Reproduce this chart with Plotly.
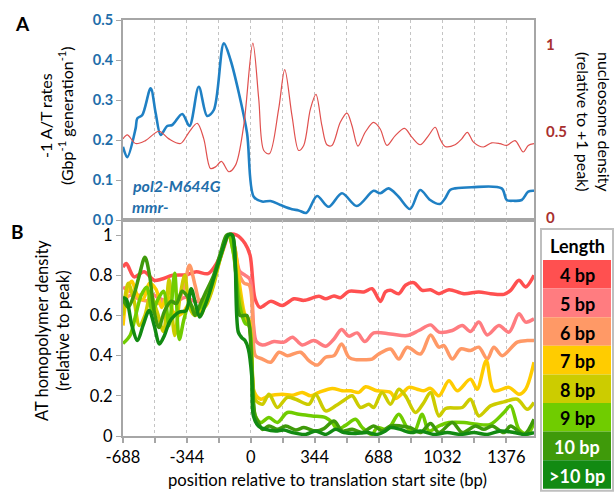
import plotly.graph_objects as go

# ---------------- Panel A data ----------------
a_blue_x = [-688,-665,-620,-611,-584,-539,-512,-485,-450,-423,-369,-330,-280,-235,-199,-145,-109,-64,-20,16,61,106,160,222,258,300,357,419,491,571,661,697,742,796,858,912,966,1019,1046,1073,1100,1190,1351,1378,1414,1459,1494,1525]
a_blue_y = [0.183,0.157,0.229,0.254,0.2625,0.329,0.267,0.2125,0.235,0.2375,0.265,0.235,0.333,0.26,0.275,0.4415,0.40,0.317,0.217,0.058,0.046,0.0475,0.0375,0.027,0.024,0.018,0.06,0.033,0.067,0.035,0.073,0.067,0.079,0.058,0.0275,0.075,0.05,0.04,0.054,0.075,0.079,0.082,0.079,0.05,0.048,0.05,0.071,0.073]

a_red_x = [-688,-665,-620,-567,-494,-441,-378,-333,-288,-253,-217,-190,-158,-118,-82,-38,11,43,70,100,150,183,222,258,285,321,351,383,410,437,482,518,545,577,616,661,697,733,778,828,867,912,957,993,1019,1046,1100,1136,1166,1199,1252,1297,1342,1378,1423,1467,1494,1525]
a_red_y = [0.457,0.48,0.43,0.447,0.501,0.457,0.43,0.495,0.547,0.457,0.286,0.295,0.327,0.267,0.305,0.533,1.01,0.686,0.39,0.371,0.629,0.857,0.59,0.39,0.419,0.629,0.714,0.533,0.423,0.419,0.553,0.606,0.533,0.415,0.495,0.552,0.514,0.419,0.476,0.518,0.467,0.423,0.476,0.524,0.457,0.413,0.423,0.457,0.495,0.438,0.41,0.434,0.429,0.419,0.447,0.381,0.419,0.429]

# ---------------- Panel B data ----------------
bp4_x = [-688,-670,-628,-574,-520,-483,-420,-348,-293,-230,-185,-150,-120,-76,-31,-4,23,50,107,170,233,286,367,403,448,483,528,609,653,698,725,752,797,833,878,923,968,1013,1067,1148,1228,1291,1363,1399,1444,1480,1525]
bp4_y = [0.84,0.858,0.792,0.817,0.775,0.78,0.80,0.803,0.817,0.808,0.858,0.93,1.0,1.0,0.958,0.90,0.683,0.64,0.67,0.65,0.683,0.675,0.695,0.683,0.697,0.688,0.72,0.717,0.733,0.67,0.717,0.725,0.708,0.75,0.763,0.725,0.728,0.708,0.728,0.708,0.717,0.708,0.705,0.725,0.775,0.742,0.80]

bp5_x = [-688,-650,-600,-560,-520,-480,-440,-400,-350,-300,-260,-220,-180,-140,-120,-90,-60,-30,-5,15,30,63,125,179,224,277,340,403,448,489,528,573,614,662,752,842,905,968,1013,1085,1139,1183,1228,1273,1336,1390,1444,1480,1525]
bp5_y = [0.74,0.72,0.70,0.72,0.70,0.68,0.66,0.67,0.69,0.67,0.68,0.74,0.84,0.95,1.0,0.95,0.82,0.80,0.78,0.55,0.47,0.453,0.47,0.467,0.492,0.453,0.475,0.447,0.483,0.53,0.497,0.513,0.47,0.513,0.508,0.50,0.525,0.553,0.517,0.525,0.55,0.52,0.567,0.503,0.55,0.517,0.608,0.567,0.583]

bp6_x = [-688,-650,-600,-550,-500,-450,-400,-360,-330,-300,-270,-230,-190,-150,-120,-90,-60,-35,-8,12,25,63,107,152,197,268,313,358,403,448,489,528,564,609,653,689,752,797,842,914,968,1013,1040,1085,1130,1183,1228,1273,1309,1354,1435,1489,1525]
bp6_y = [0.66,0.70,0.68,0.67,0.66,0.68,0.66,0.74,0.85,0.75,0.66,0.68,0.80,0.93,1.0,0.93,0.80,0.76,0.75,0.55,0.40,0.383,0.367,0.417,0.40,0.417,0.375,0.353,0.392,0.40,0.458,0.392,0.38,0.38,0.383,0.408,0.433,0.383,0.442,0.408,0.503,0.442,0.45,0.383,0.433,0.425,0.442,0.383,0.442,0.40,0.467,0.475,0.475]

bp7_x = [-688,-660,-640,-610,-580,-545,-510,-480,-450,-420,-390,-360,-330,-300,-270,-240,-200,-160,-120,-90,-60,-30,-10,5,18,54,98,170,224,277,322,367,439,492,537,582,618,680,752,779,824,851,896,932,968,1013,1067,1112,1183,1219,1268,1309,1390,1444,1480,1525]
bp7_y = [0.55,0.74,0.77,0.70,0.68,0.76,0.73,0.64,0.70,0.62,0.60,0.62,0.66,0.62,0.60,0.68,0.78,0.90,1.0,0.95,0.75,0.60,0.58,0.40,0.22,0.183,0.20,0.208,0.203,0.217,0.20,0.217,0.237,0.225,0.225,0.217,0.245,0.225,0.217,0.187,0.22,0.242,0.233,0.225,0.237,0.20,0.275,0.225,0.283,0.233,0.375,0.225,0.242,0.208,0.233,0.367]

bp8_x = [-688,-660,-630,-600,-570,-540,-505,-470,-440,-410,-380,-355,-330,-300,-270,-240,-200,-160,-120,-95,-60,-30,-10,10,25,63,98,143,197,242,313,349,403,457,510,546,591,636,662,707,752,797,833,887,932,968,1013,1049,1139,1183,1228,1291,1363,1435,1489,1525]
bp8_y = [0.60,0.76,0.68,0.55,0.60,0.70,0.62,0.52,0.78,0.50,0.70,0.80,0.64,0.60,0.62,0.65,0.75,0.90,1.0,0.92,0.70,0.58,0.56,0.30,0.18,0.158,0.208,0.142,0.192,0.183,0.158,0.208,0.125,0.15,0.183,0.20,0.142,0.158,0.142,0.217,0.158,0.233,0.20,0.117,0.167,0.217,0.10,0.137,0.142,0.183,0.10,0.15,0.17,0.183,0.133,0.167]

bp9_x = [-688,-650,-620,-590,-560,-530,-500,-470,-440,-410,-385,-360,-330,-300,-270,-240,-200,-160,-120,-95,-60,-30,-10,10,25,54,98,143,197,260,331,403,439,466,510,564,600,653,680,725,752,797,842,878,923,959,1013,1067,1148,1219,1291,1363,1399,1444,1489,1525]
bp9_y = [0.46,0.50,0.60,0.70,0.74,0.62,0.68,0.72,0.55,0.81,0.48,0.58,0.66,0.62,0.64,0.68,0.78,0.90,1.0,0.92,0.65,0.56,0.55,0.20,0.10,0.067,0.092,0.067,0.117,0.108,0.10,0.092,0.067,0.033,0.053,0.083,0.042,0.008,0.042,0.033,0.05,0.108,0.042,0.017,0.108,0.025,0.05,0.067,0.067,0.058,0.058,0.117,0.15,0.033,0.008,0.067]

bp10_x = [-688,-660,-630,-600,-570,-545,-520,-495,-465,-430,-400,-370,-345,-320,-300,-270,-240,-200,-160,-130,-100,-80,-58,-22,-8,8,23,40,63,98,143,188,242,286,349,394,448,492,546,600,662,707,752,806,860,914,968,1013,1085,1139,1210,1255,1300,1363,1399,1471,1525]
bp10_y = [0.68,0.64,0.70,0.80,0.89,0.80,0.62,0.54,0.62,0.67,0.66,0.72,0.70,0.65,0.60,0.66,0.72,0.80,0.92,1.0,1.0,0.80,0.60,0.60,0.55,0.30,0.10,0.07,0.033,0.05,0.033,0.05,0.03,0.042,0.025,0.037,0.075,0.025,0.033,0.017,0.05,0.025,0.05,0.05,0.042,0.017,0.062,0.017,0.067,0.017,0.05,0.033,0.05,0.017,0.05,0.008,0.083]

bp11_x = [-688,-670,-640,-610,-580,-547,-520,-492,-465,-438,-410,-384,-348,-321,-298,-275,-250,-221,-195,-167,-140,-121,-100,-85,-67,-49,-31,-13,5,14,41,81,134,179,224,295,349,403,457,501,564,627,680,725,752,806,860,914,986,1058,1130,1201,1273,1345,1417,1471,1525]
bp11_y = [0.69,0.68,0.55,0.475,0.55,0.625,0.55,0.458,0.50,0.567,0.60,0.617,0.625,0.733,0.66,0.592,0.64,0.717,0.80,0.883,0.96,1.0,1.0,0.883,0.517,0.49,0.475,0.433,0.30,0.10,0.05,0.033,0.025,0.03,0.017,0.008,0.025,0.008,0.033,0.017,0.013,0.017,0.008,0.025,0.042,0.033,0.017,0.025,0.008,0.017,0.008,0.017,0.008,0.025,0.017,0.008,0.017]

series_names = ["4 bp", "5 bp", "6 bp", "7 bp", "8 bp", "9 bp", "10 bp", ">10 bp"]
series_x = [bp4_x, bp5_x, bp6_x, bp7_x, bp8_x, bp9_x, bp10_x, bp11_x]
series_y = [bp4_y, bp5_y, bp6_y, bp7_y, bp8_y, bp9_y, bp10_y, bp11_y]
series_colors = ["#FF5050", "#FF7C80", "#FF9966", "#FFCC00", "#CCCC00", "#70CC00", "#3F9A0A", "#128A12"]
legend_text_colors = ["black"] * 6 + ["white", "white"]

x_tick_vals = [-688, -344, 0, 344, 688, 1032, 1376]
x_tick_text = ["-688", "-344", "0", "344", "688", "1032", "1376"]

FONT = "Lato"
W, H = 615, 492
L, R, T, B = 123, 81, 20, 56
PW, PH = W - L - R, H - T - B
SPLIT_PX = 220  # y pixel where panel A ends

def px(x):
    return (x - L) / PW

def py(y):
    return (H - B - y) / PH

split = py(SPLIT_PX)

fig = go.Figure()
fig.add_trace(go.Scatter(x=a_red_x, y=a_red_y, xaxis="x", yaxis="y2", mode="lines",
                         line=dict(color="#E0504E", width=1.2, shape="spline", smoothing=0.9),
                         showlegend=False, hoverinfo="skip"))
fig.add_trace(go.Scatter(x=a_blue_x, y=a_blue_y, xaxis="x", yaxis="y", mode="lines",
                         line=dict(color="#1F80C4", width=2.6, shape="spline", smoothing=0.9),
                         showlegend=False, hoverinfo="skip"))
for nm, xs, ys, c in zip(series_names, series_x, series_y, series_colors):
    fig.add_trace(go.Scatter(x=xs, y=ys, xaxis="x2", yaxis="y3", mode="lines", name=nm,
                             line=dict(color=c, width=3.5, shape="spline", smoothing=0.9),
                             showlegend=False, hoverinfo="skip"))

axcol = "#A6A6A6"
gridcol = "#C4C4C4"
common_x = dict(range=[-688, 1525], tickvals=x_tick_vals, showgrid=True, gridcolor=gridcol,
                griddash="dot", gridwidth=1, zeroline=False, showline=True, mirror=True,
                linecolor=axcol, linewidth=2)

fig.update_layout(
    width=W, height=H, margin=dict(l=L, r=R, t=T, b=B, pad=0),
    paper_bgcolor="white", plot_bgcolor="white",
    font=dict(family=FONT, color="black"),
    xaxis=dict(domain=[0, 1], anchor="y", showticklabels=False, ticks="",
               minor=dict(dtick=172, tick0=-688, showgrid=True, gridcolor=gridcol,
                          griddash="dot", gridwidth=1, ticks=""),
               **common_x),
    xaxis2=dict(domain=[0, 1], anchor="y3", ticktext=x_tick_text, ticks="outside", ticklen=5,
                tickcolor=axcol, tickwidth=1.5, tickfont=dict(family=FONT, size=16.5, color="black"),
                minor=dict(dtick=172, tick0=-688, showgrid=True, gridcolor=gridcol,
                           griddash="dot", gridwidth=1, ticks="outside", ticklen=5,
                           tickcolor=axcol, tickwidth=1.5),
                **common_x),
    yaxis=dict(domain=[split, 1], anchor="x", range=[0, 0.5], dtick=0.1, tickformat=".1f",
               showgrid=False, zeroline=False, showline=True, mirror=True, linecolor=axcol,
               linewidth=2, ticks="outside", ticklen=5, tickcolor=axcol,
               tickfont=dict(family=FONT, size=14.5, color="#1F6EAA", weight="bold")),
    yaxis2=dict(overlaying="y", side="right", anchor="x", range=[-0.012, 1.144],
                tickvals=[0, 0.5, 1], ticktext=["0", "0.5", "1"], showgrid=False, zeroline=False,
                showline=False, ticks="", ticklabelstandoff=11,
                tickfont=dict(family=FONT, size=15, color="#A8302F", weight="bold")),
    yaxis3=dict(domain=[0, split], anchor="x2", range=[0, 1.075], dtick=0.2,
                showgrid=False, zeroline=False, showline=True, mirror=True, linecolor=axcol,
                linewidth=2, ticks="outside", ticklen=5, tickcolor=axcol,
                tickfont=dict(family=FONT, size=16.5, color="black")),
)

ann = []
def add_text(text, x, y, size=15, color="black", bold=False, italic=False, angle=0,
             xanchor="center", yanchor="middle"):
    t = text
    if bold:
        t = "<b>" + t + "</b>"
    if italic:
        t = "<i>" + t + "</i>"
    ann.append(dict(text=t, x=px(x), y=py(y), xref="paper", yref="paper", showarrow=False,
                    textangle=angle, xanchor=xanchor, yanchor=yanchor,
                    font=dict(family=FONT, size=size, color=color)))

add_text("A", 22, 24, size=19, bold=True)
add_text("B", 18, 231, size=19, bold=True)
add_text("-1 A/T rates<br>(Gbp<sup>-1</sup> generation<sup>-1</sup>)", 56, 116, size=16, angle=-90)
add_text("nucleosome density<br>(relative to +1 peak)", 594, 122, size=16, angle=90)
add_text("AT homopolymer density<br>(relative to peak)", 52, 331, size=16.5, angle=-90)
add_text("position relative to translation start site (bp)", 327, 480, size=16.7)
add_text("pol2-M644G", 130, 185, size=16, color="#1F6EAA", bold=True, italic=True, xanchor="left")
add_text("mmr-", 130, 207, size=16, color="#1F6EAA", bold=True, italic=True, xanchor="left")

shapes = []
# legend box
LX0, LX1, LY0 = 543, 611, 231
header_h = 29
cell_h = 28.6
shapes.append(dict(type="rect", xref="paper", yref="paper", x0=px(LX0 - 2), x1=px(LX1 + 2),
                   y0=py(LY0 - 2), y1=py(LY0 + header_h + cell_h * 8 + 2),
                   line=dict(color="#BFBFBF", width=2), fillcolor="white", layer="above"))
add_text("Length", (LX0 + LX1) / 2, LY0 + header_h / 2, size=18, bold=True)
for i, (nm, c, tc) in enumerate(zip(series_names, series_colors, legend_text_colors)):
    y0 = LY0 + header_h + i * cell_h
    shapes.append(dict(type="rect", xref="paper", yref="paper", x0=px(LX0), x1=px(LX1),
                       y0=py(y0), y1=py(y0 + cell_h), line=dict(width=0), fillcolor=c,
                       layer="above"))
    add_text(nm, (LX0 + LX1) / 2, y0 + cell_h / 2 + 1, size=18, color=tc, bold=True)

fig.update_layout(annotations=ann, shapes=shapes)
fig.write_html("out.html", config={"displayModeBar": False},
               post_script="document.body.style.margin='0px';document.body.style.padding='0px';")
